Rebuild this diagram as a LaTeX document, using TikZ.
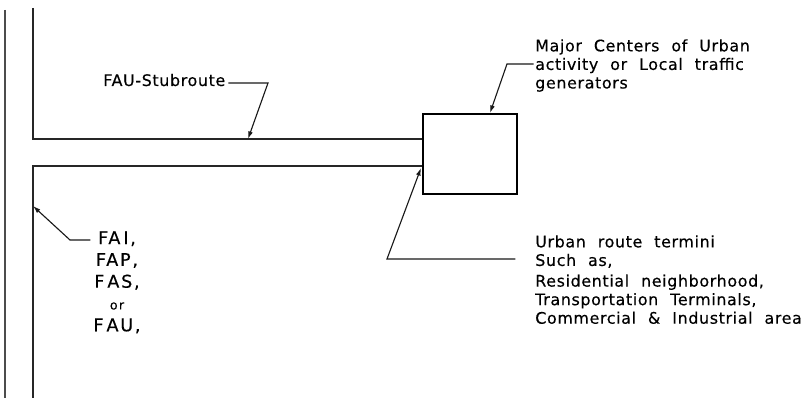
\documentclass[tikz,border=0pt]{standalone}
\usepackage{fontspec}
\setmainfont{DejaVu Sans}[LetterSpace=4,WordSpace=2.1,FakeBold=0.3]
\usetikzlibrary{arrows.meta,positioning}
\tikzset{
  road/.style ={line width=1.2pt, color=black!85},
  rim/.style  ={line width=1pt, color=black!70},
  lead/.style ={line width=0.8pt, color=black!90, -{Latex[length=1.9mm,width=1.2mm]}},
  note/.style ={inner sep=0pt, align=left, font=\fontsize{11.3}{13.2}\selectfont},
  routes/.style={inner sep=0pt, align=center, font=\fontsize{12.5}{15.5}\selectfont\addfontfeature{LetterSpace=10}},
  hubbox/.style={rectangle, draw, line width=1.2pt, minimum width=2.35cm, minimum height=2cm, inner sep=0pt},
}
\begin{document}
\begin{tikzpicture}[x=0.025cm, y=-0.025cm]
  \useasboundingbox (0,0) rectangle (805,398);
  % road edges
  \draw[rim] (5,10) -- (5,398);
  \draw[road] (33,8) -- (33,139) -- (422,139);
  \draw[road] (422,166) -- (33,166) -- (33,398);
  \node[hubbox, anchor=north west] (hub) at (422,113) {};

  % labels
  \node[note, anchor=base west] (stub) at (103,86) {FAU-Stubroute};
  \node[note, anchor=north west] (centers) at (535,39) {Major Centers of Urban\\activity or Local traffic\\generators};
  \node[note, anchor=north west] (termini) at (535,235) {Urban route termini\\Such as,\\[1.5pt]Residential neighborhood,\\Transportation Terminals,\\Commercial \& Industrial area};
  \node[routes, anchor=north] (fai) at (117,231) {FA\,I,\\FAP,\\F\,AS,\\{\fontsize{9}{9}\selectfont or}\\F\,AU,};

  % leaders
  \coordinate (stubbend) at (268,83);
  \coordinate (stubtip) at (248,139);
  \coordinate (ctrbend) at (507,64);
  \coordinate (ctrtip) at (490,113);
  \coordinate (termbend) at (387,259);
  \coordinate (termtip) at (421,168);
  \coordinate (faibend) at (70,240);
  \coordinate (faitip) at (33,206);
  \draw[lead] ([xshift=2pt]stub.east |- stubbend) -- (stubbend) -- (stubtip);
  \draw[lead] ([xshift=-1pt]centers.west |- ctrbend) -- (ctrbend) -- (ctrtip);
  \draw[lead] ([xshift=-14pt]termini.west |- termbend) -- (termbend) -- (termtip);
  \draw[lead] ([xshift=-2pt]fai.west |- faibend) -- (faibend) -- (faitip);
\end{tikzpicture}
\end{document}
